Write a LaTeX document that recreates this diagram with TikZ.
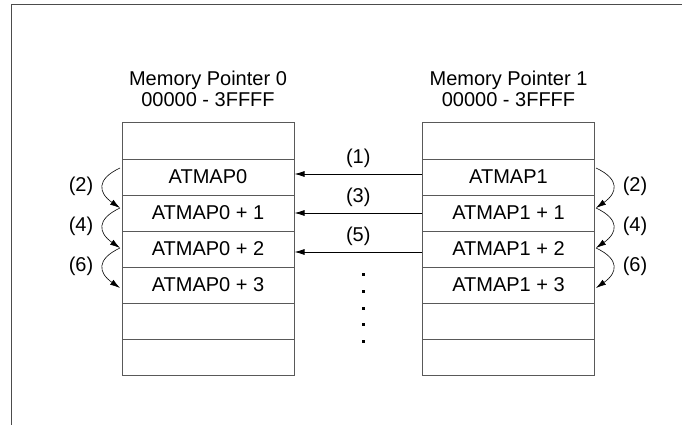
\documentclass[tikz,border=0pt]{standalone}
\usepackage{fontspec}
\setmainfont{Liberation Sans}
\usetikzlibrary{arrows.meta, positioning}

\begin{document}
\begin{tikzpicture}[
          x=1pt, y=-1pt,
          every node/.style={font=\fontsize{20}{21}\selectfont},
          cell/.style={draw=black!65, line width=1pt, minimum width=172pt, minimum height=36pt, inner sep=0pt},
          title/.style={align=center, inner sep=0pt},
          link/.style={-{Latex[length=10pt, width=6pt]}, line width=0.8pt},
          hop/.style={-{Latex[length=10pt, width=6pt]}, line width=0.6pt, looseness=1.7}
        ]
          \useasboundingbox (0,0) rectangle (682,425);
          % outer frame
          \draw[black!70, line width=1pt] (11,425) -- (11,5) -- (682,5);

          % the two memory blocks
          \foreach \i/\txt in {0/, 1/ATMAP0, 2/ATMAP0 + 1, 3/ATMAP0 + 2, 4/ATMAP0 + 3, 5/, 6/}
            \node[cell] (l\i) at (208, 141+36*\i) {\txt};
          \foreach \i/\txt in {0/, 1/ATMAP1, 2/ATMAP1 + 1, 3/ATMAP1 + 2, 4/ATMAP1 + 3, 5/, 6/}
            \node[cell] (r\i) at (508.5, 141+36*\i) {\txt};

          \node[title] (t0) [above=16pt of l0] {Memory Pointer 0\\00000 - 3FFFF};
          \node[title] (t1) [above=16pt of r0] {Memory Pointer 1\\00000 - 3FFFF};

          % transfers between the pointers
          \draw[link] ([yshift=3pt]r1.west) -- ([yshift=3pt]l1.east) node[midway, above=3pt] {(1)};
          \draw[link] (r2.west) -- (l2.east) node[midway, above=3pt] {(3)};
          \draw[link] ([yshift=-3pt]r3.west) -- ([yshift=-3pt]l3.east) node[midway, above=3pt] {(5)};
          \foreach \y in {273, 289.75, 306.5, 323.25, 340}
            \fill (361.5,\y) rectangle +(3,3);

          % increments
          \foreach \i in {0,...,3} {
            \coordinate (a\i) at (120, 168+40*\i);
            \coordinate (b\i) at (596, 168+40*\i);
          }
          \foreach \i/\j/\n in {0/1/(2), 1/2/(4), 2/3/(6)} {
            \draw[hop] (a\i) to[out=205, in=145] node[left=6pt] {\n} (a\j);
            \draw[hop] (b\i) to[out=-25, in=35] node[right=6pt] {\n} (b\j);
          }
        \end{tikzpicture}
\end{document}
